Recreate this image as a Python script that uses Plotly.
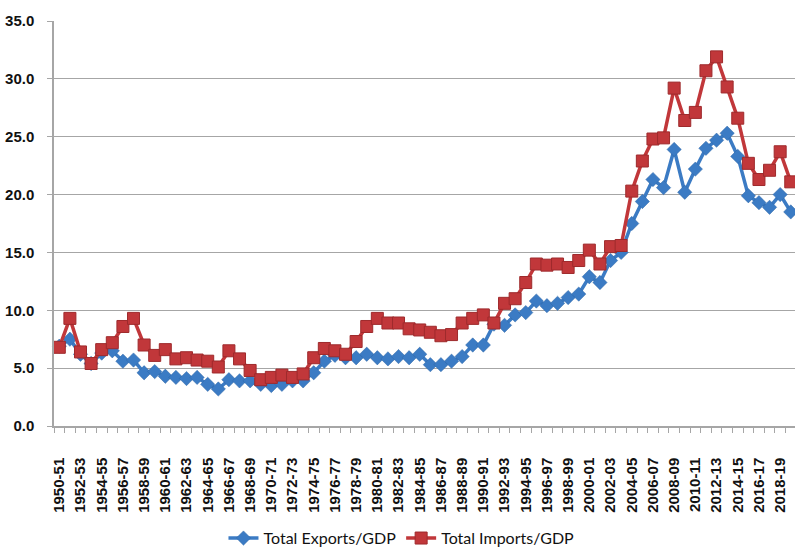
import plotly.graph_objects as go

# Fiscal years 1950-51 .. 2019-20
years = [f"{y}-{str(y + 1)[-2:]}" for y in range(1950, 2020)]

exports_gdp = [
    6.9, 7.5, 6.2, 5.4, 6.3, 6.5, 5.6, 5.7, 4.6, 4.7,
    4.3, 4.2, 4.1, 4.2, 3.6, 3.2, 4.0, 3.9, 3.9, 3.6,
    3.5, 3.6, 3.9, 3.9, 4.6, 5.6, 6.1, 5.9, 5.9, 6.2,
    5.9, 5.8, 6.0, 5.9, 6.2, 5.3, 5.3, 5.6, 6.0, 7.0,
    7.0, 8.8, 8.7, 9.6, 9.8, 10.8, 10.4, 10.6, 11.1, 11.4,
    12.9, 12.4, 14.3, 15.0, 17.5, 19.4, 21.3, 20.6, 23.9, 20.2,
    22.2, 24.0, 24.7, 25.3, 23.3, 19.9, 19.3, 18.9, 20.0, 18.5,
]

imports_gdp = [
    6.8, 9.3, 6.4, 5.4, 6.6, 7.2, 8.6, 9.3, 7.0, 6.1,
    6.6, 5.8, 5.9, 5.7, 5.6, 5.1, 6.5, 5.8, 4.8, 4.0,
    4.2, 4.4, 4.2, 4.5, 5.9, 6.7, 6.5, 6.2, 7.3, 8.6,
    9.3, 8.9, 8.9, 8.4, 8.3, 8.1, 7.8, 7.9, 8.9, 9.3,
    9.6, 8.9, 10.6, 11.0, 12.4, 14.0, 13.9, 14.0, 13.7, 14.3,
    15.2, 14.0, 15.5, 15.6, 20.3, 22.9, 24.8, 24.9, 29.2, 26.4,
    27.1, 30.7, 31.9, 29.3, 26.6, 22.7, 21.3, 22.1, 23.7, 21.1,
]

y_ticks = [0, 5, 10, 15, 20, 25, 30, 35]

idx = list(range(len(years)))
label_idx = idx[::2]
label_txt = [years[i] for i in label_idx]

BLUE = "#3B7BC4"
RED = "#C1373A"
GRID = "#A6A6A6"

fig = go.Figure()
fig.add_trace(go.Scatter(
    x=idx, y=exports_gdp, name="Total Exports/GDP", mode="lines+markers",
    line=dict(color=BLUE, width=3.5),
    marker=dict(symbol="diamond", size=11, color=BLUE,
                line=dict(color="#2F66A6", width=0.5)),
    cliponaxis=False,
))
fig.add_trace(go.Scatter(
    x=idx, y=imports_gdp, name="Total Imports/GDP", mode="lines+markers",
    line=dict(color=RED, width=3.5),
    marker=dict(symbol="square", size=12, color=RED,
                line=dict(color="#9E2A2C", width=1)),
    cliponaxis=False,
))

fig.update_layout(
    width=795, height=548,
    margin=dict(l=54, r=0, t=21, b=122),
    paper_bgcolor="white", plot_bgcolor="white",
    font=dict(family="Liberation Sans, Arial", color="#1a1a1a"),
    showlegend=True,
    legend=dict(
        orientation="h", xref="container", yref="container",
        x=0.505, xanchor="center", y=0.018, yanchor="middle",
        font=dict(family="Lato, Open Sans", size=16, color="#111"),
        itemwidth=30, tracegroupgap=0,
    ),
)

fig.update_xaxes(
    range=[-0.5, 69.4],
    tickmode="array", tickvals=label_idx, ticktext=label_txt,
    tickangle=-90, ticks="",
    tickfont=dict(family="Liberation Sans, Arial", size=15, color="#111",
                  weight="bold"),
    ticklabelstandoff=24,
    showline=True, linecolor=GRID, linewidth=1.5,
    showgrid=False, zeroline=False,
    minor=dict(tickmode="linear", tick0=-0.5, dtick=1, ticks="outside",
               ticklen=5, tickcolor=GRID, showgrid=False),
)

fig.update_yaxes(
    range=[0, 35],
    tickmode="array", tickvals=y_ticks,
    tickformat=".1f",
    tickfont=dict(family="Liberation Sans, Arial", size=15, color="#111",
                  weight="bold"),
    ticks="outside", ticklen=5, tickcolor=GRID,
    ticklabelstandoff=10,
    showline=True, linecolor=GRID, linewidth=1.5,
    showgrid=True, gridcolor=GRID, gridwidth=1.2,
    zeroline=False,
)

fig.write_html("out.html")
